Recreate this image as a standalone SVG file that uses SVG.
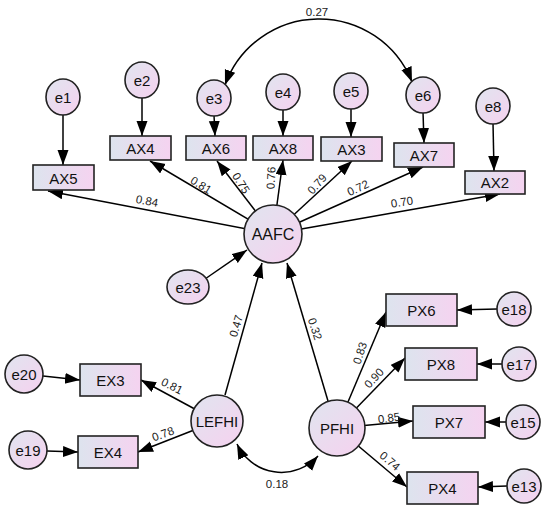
<svg xmlns="http://www.w3.org/2000/svg" width="550" height="510" viewBox="0 0 550 510">
<defs>
<linearGradient id="gr" x1="0" y1="0" x2="1" y2="0">
<stop offset="0" stop-color="#dde4ee"/><stop offset="1" stop-color="#f5d3f0"/>
</linearGradient>
<linearGradient id="gc" x1="0" y1="0" x2="1" y2="1">
<stop offset="0" stop-color="#e0e5ef"/><stop offset="1" stop-color="#f6d1ef"/>
</linearGradient>
<marker id="ah" markerUnits="userSpaceOnUse" markerWidth="16" markerHeight="12" refX="15" refY="5.5" orient="auto-start-reverse">
<path d="M0,0 L15,5.5 L0,11 z" fill="#000"/>
</marker>
</defs>
<style>
.ln{stroke:#000;stroke-width:1.5;fill:none;marker-end:url(#ah)}
.cv{stroke:#000;stroke-width:1.5;fill:none;marker-start:url(#ah);marker-end:url(#ah)}
.box{fill:url(#gr);stroke:#222;stroke-width:1.6}
.cir{fill:url(#gc);stroke:#222;stroke-width:1.6}
.t{font-family:"Liberation Sans",Arial,sans-serif;font-size:15px;fill:#111;text-anchor:middle;dominant-baseline:central}
.lat{font-size:16px}
.lb{font-family:"Liberation Sans",Arial,sans-serif;font-size:11.5px;fill:#222;text-anchor:middle;dominant-baseline:central}
</style>
<g id="connectors">
<line class="ln" x1="63" y1="114" x2="63" y2="165"/>
<line class="ln" x1="142" y1="98" x2="142" y2="136"/>
<line class="ln" x1="214" y1="115" x2="215" y2="136"/>
<line class="ln" x1="283" y1="109" x2="283" y2="136"/>
<line class="ln" x1="351" y1="108" x2="351" y2="137"/>
<line class="ln" x1="423" y1="112" x2="424" y2="143"/>
<line class="ln" x1="493" y1="123" x2="494" y2="171"/>
<path class="cv" d="M225,85 A100,100 0 0 1 412,82"/>
<line class="ln" x1="273" y1="234" x2="48" y2="191"/>
<line class="ln" x1="273" y1="234" x2="150" y2="161"/>
<line class="ln" x1="273" y1="234" x2="217" y2="161"/>
<line class="ln" x1="273" y1="234" x2="283" y2="160"/>
<line class="ln" x1="273" y1="234" x2="352" y2="161"/>
<line class="ln" x1="273" y1="234" x2="423" y2="167"/>
<line class="ln" x1="273" y1="234" x2="500" y2="194"/>
<line class="ln" x1="205" y1="279" x2="247" y2="250"/>
<line class="ln" x1="225" y1="395" x2="262" y2="263"/>
<line class="ln" x1="328" y1="401" x2="287" y2="263"/>
<line class="ln" x1="217" y1="421" x2="141" y2="380"/>
<line class="ln" x1="217" y1="421" x2="138" y2="452"/>
<line class="ln" x1="43" y1="376" x2="80" y2="380"/>
<line class="ln" x1="47" y1="451" x2="78" y2="452"/>
<line class="ln" x1="337" y1="428" x2="386" y2="312"/>
<line class="ln" x1="337" y1="428" x2="405" y2="358"/>
<line class="ln" x1="337" y1="428" x2="413" y2="421"/>
<line class="ln" x1="337" y1="428" x2="407" y2="487"/>
<line class="ln" x1="497" y1="309" x2="457" y2="310"/>
<line class="ln" x1="502" y1="364" x2="477" y2="364"/>
<line class="ln" x1="506" y1="422" x2="485" y2="422"/>
<line class="ln" x1="507" y1="486" x2="478" y2="487"/>
<path class="cv" d="M237,444 A49,49 0 0 0 318,456"/>
<text class="lb" x="317" y="12">0.27</text>
<text class="lb" transform="translate(147,201) rotate(11)">0.84</text>
<text class="lb" transform="translate(201,185) rotate(32)">0.81</text>
<text class="lb" transform="translate(241,183) rotate(58)">0.75</text>
<text class="lb" transform="translate(271,178) rotate(-88)">0.76</text>
<text class="lb" transform="translate(317,184) rotate(-48)">0.79</text>
<text class="lb" transform="translate(358,188) rotate(-25)">0.72</text>
<text class="lb" transform="translate(402,202) rotate(-9)">0.70</text>
<text class="lb" transform="translate(236,326) rotate(-74)">0.47</text>
<text class="lb" transform="translate(315,329) rotate(72)">0.32</text>
<text class="lb" transform="translate(172,386) rotate(27)">0.81</text>
<text class="lb" transform="translate(163,434) rotate(-20)">0.78</text>
<text class="lb" transform="translate(360,353) rotate(-72)">0.83</text>
<text class="lb" transform="translate(374,378) rotate(-47)">0.90</text>
<text class="lb" transform="translate(389,418) rotate(-8)">0.85</text>
<text class="lb" transform="translate(390,461) rotate(40)">0.74</text>
<text class="lb" x="277" y="484">0.18</text>
</g>
<g id="e1"><ellipse class="cir" cx="63" cy="97" rx="17" ry="18"/><text class="t" x="63" y="97">e1</text></g>
<g id="e2"><ellipse class="cir" cx="142" cy="80" rx="17" ry="18"/><text class="t" x="142" y="80">e2</text></g>
<g id="e3"><ellipse class="cir" cx="214" cy="98" rx="17" ry="18"/><text class="t" x="214" y="98">e3</text></g>
<g id="e4"><ellipse class="cir" cx="283" cy="92" rx="17" ry="18"/><text class="t" x="283" y="92">e4</text></g>
<g id="e5"><ellipse class="cir" cx="351" cy="91" rx="17" ry="18"/><text class="t" x="351" y="91">e5</text></g>
<g id="e6"><ellipse class="cir" cx="423" cy="95" rx="17" ry="18"/><text class="t" x="423" y="95">e6</text></g>
<g id="e8"><ellipse class="cir" cx="493" cy="106" rx="17" ry="18"/><text class="t" x="493" y="106">e8</text></g>
<g id="AX5"><rect class="box" x="33" y="165" width="61" height="25"/><text class="t" x="63.5" y="178">AX5</text></g>
<g id="AX4"><rect class="box" x="110" y="136" width="61" height="24"/><text class="t" x="140.5" y="148">AX4</text></g>
<g id="AX6"><rect class="box" x="186" y="136" width="60" height="24"/><text class="t" x="216" y="148">AX6</text></g>
<g id="AX8"><rect class="box" x="253" y="136" width="60" height="24"/><text class="t" x="283" y="148">AX8</text></g>
<g id="AX3"><rect class="box" x="321" y="137" width="61" height="24"/><text class="t" x="351.5" y="149">AX3</text></g>
<g id="AX7"><rect class="box" x="394" y="143" width="60" height="24"/><text class="t" x="424" y="155">AX7</text></g>
<g id="AX2"><rect class="box" x="465" y="171" width="60" height="23"/><text class="t" x="495" y="182.5">AX2</text></g>
<g id="AAFC"><circle class="cir" cx="273" cy="234" r="29"/><text class="t lat" x="273" y="234">AAFC</text></g>
<g id="e23"><ellipse class="cir" cx="188" cy="287" rx="21" ry="17"/><text class="t" x="188" y="287">e23</text></g>
<g id="LEFHI"><circle class="cir" cx="217" cy="421" r="26"/><text class="t" x="217" y="421">LEFHI</text></g>
<g id="PFHI"><circle class="cir" cx="337" cy="428" r="28"/><text class="t" x="337" y="428">PFHI</text></g>
<g id="e20"><ellipse class="cir" cx="24" cy="374" rx="19" ry="19"/><text class="t" x="24" y="374">e20</text></g>
<g id="e19"><ellipse class="cir" cx="28" cy="450" rx="19" ry="19"/><text class="t" x="28" y="450">e19</text></g>
<g id="EX3"><rect class="box" x="80" y="364" width="61" height="32"/><text class="t" x="110.5" y="380">EX3</text></g>
<g id="EX4"><rect class="box" x="78" y="436" width="60" height="32"/><text class="t" x="108" y="452">EX4</text></g>
<g id="PX6"><rect class="box" x="386" y="294" width="71" height="32"/><text class="t" x="421.5" y="310">PX6</text></g>
<g id="PX8"><rect class="box" x="405" y="348" width="72" height="32"/><text class="t" x="441" y="364">PX8</text></g>
<g id="PX7"><rect class="box" x="413" y="406" width="72" height="32"/><text class="t" x="449" y="422">PX7</text></g>
<g id="PX4"><rect class="box" x="407" y="472" width="71" height="32"/><text class="t" x="442.5" y="488">PX4</text></g>
<g id="e18"><ellipse class="cir" cx="514" cy="309" rx="17" ry="17"/><text class="t" x="514" y="309">e18</text></g>
<g id="e17"><ellipse class="cir" cx="519" cy="364" rx="17" ry="17"/><text class="t" x="519" y="364">e17</text></g>
<g id="e15"><ellipse class="cir" cx="523" cy="422" rx="17" ry="17"/><text class="t" x="523" y="422">e15</text></g>
<g id="e13"><ellipse class="cir" cx="524" cy="486" rx="17" ry="17"/><text class="t" x="524" y="486">e13</text></g>
</svg>
